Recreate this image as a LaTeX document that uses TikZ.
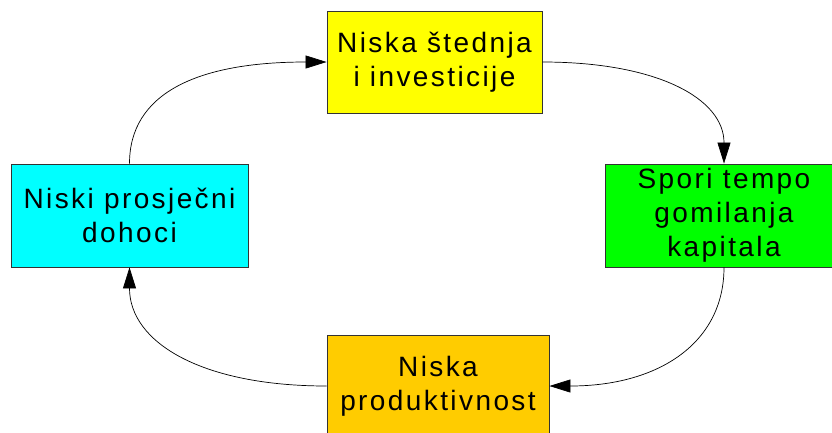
\documentclass[tikz,border=0pt]{standalone}
\usepackage{fontspec}
\setmainfont[LetterSpace=8.6]{Liberation Sans}
\usetikzlibrary{arrows.meta}
\begin{document}
\begin{tikzpicture}[x=1pt,y=-1pt,
  box/.style={draw=black!80,line width=0.8pt,rectangle,inner sep=0pt,align=center,
    font=\fontsize{28}{34}\selectfont},
  conn/.style={line width=0.7pt,-{Triangle[length=21pt,width=13pt]}}]
\clip (0,0) rectangle (832,432);
\node[box,fill={rgb,255:red,255;green,255;blue,0},minimum width=215pt,minimum height=102pt] (T) at (434.5,62) {Niska štednja\\i investicije};
\node[box,fill={rgb,255:red,0;green,255;blue,0},minimum width=238pt,minimum height=103pt] (R) at (724,215.5) {Spori tempo\\gomilanja\\kapitala};
\node[box,fill={rgb,255:red,0;green,255;blue,255},minimum width=237pt,minimum height=103pt] (L) at (129.5,215.5) {Niski prosječni\\dohoci};
\node[box,fill={rgb,255:red,255;green,204;blue,0},minimum width=222pt,minimum height=102pt] (B) at (438,386) {Niska\\produktivnost};
\draw[conn] (L.north) .. controls +(0,-70) and +(-130,0) .. (T.west);
\draw[conn] (T.east) .. controls +(115,0) and +(0,-65) .. (R.north);
\draw[conn] (R.south) .. controls +(0,75) and +(110,0) .. (B.east);
\draw[conn] (B.west) .. controls +(-125,0) and +(0,75) .. (L.south);
\end{tikzpicture}
\end{document}
